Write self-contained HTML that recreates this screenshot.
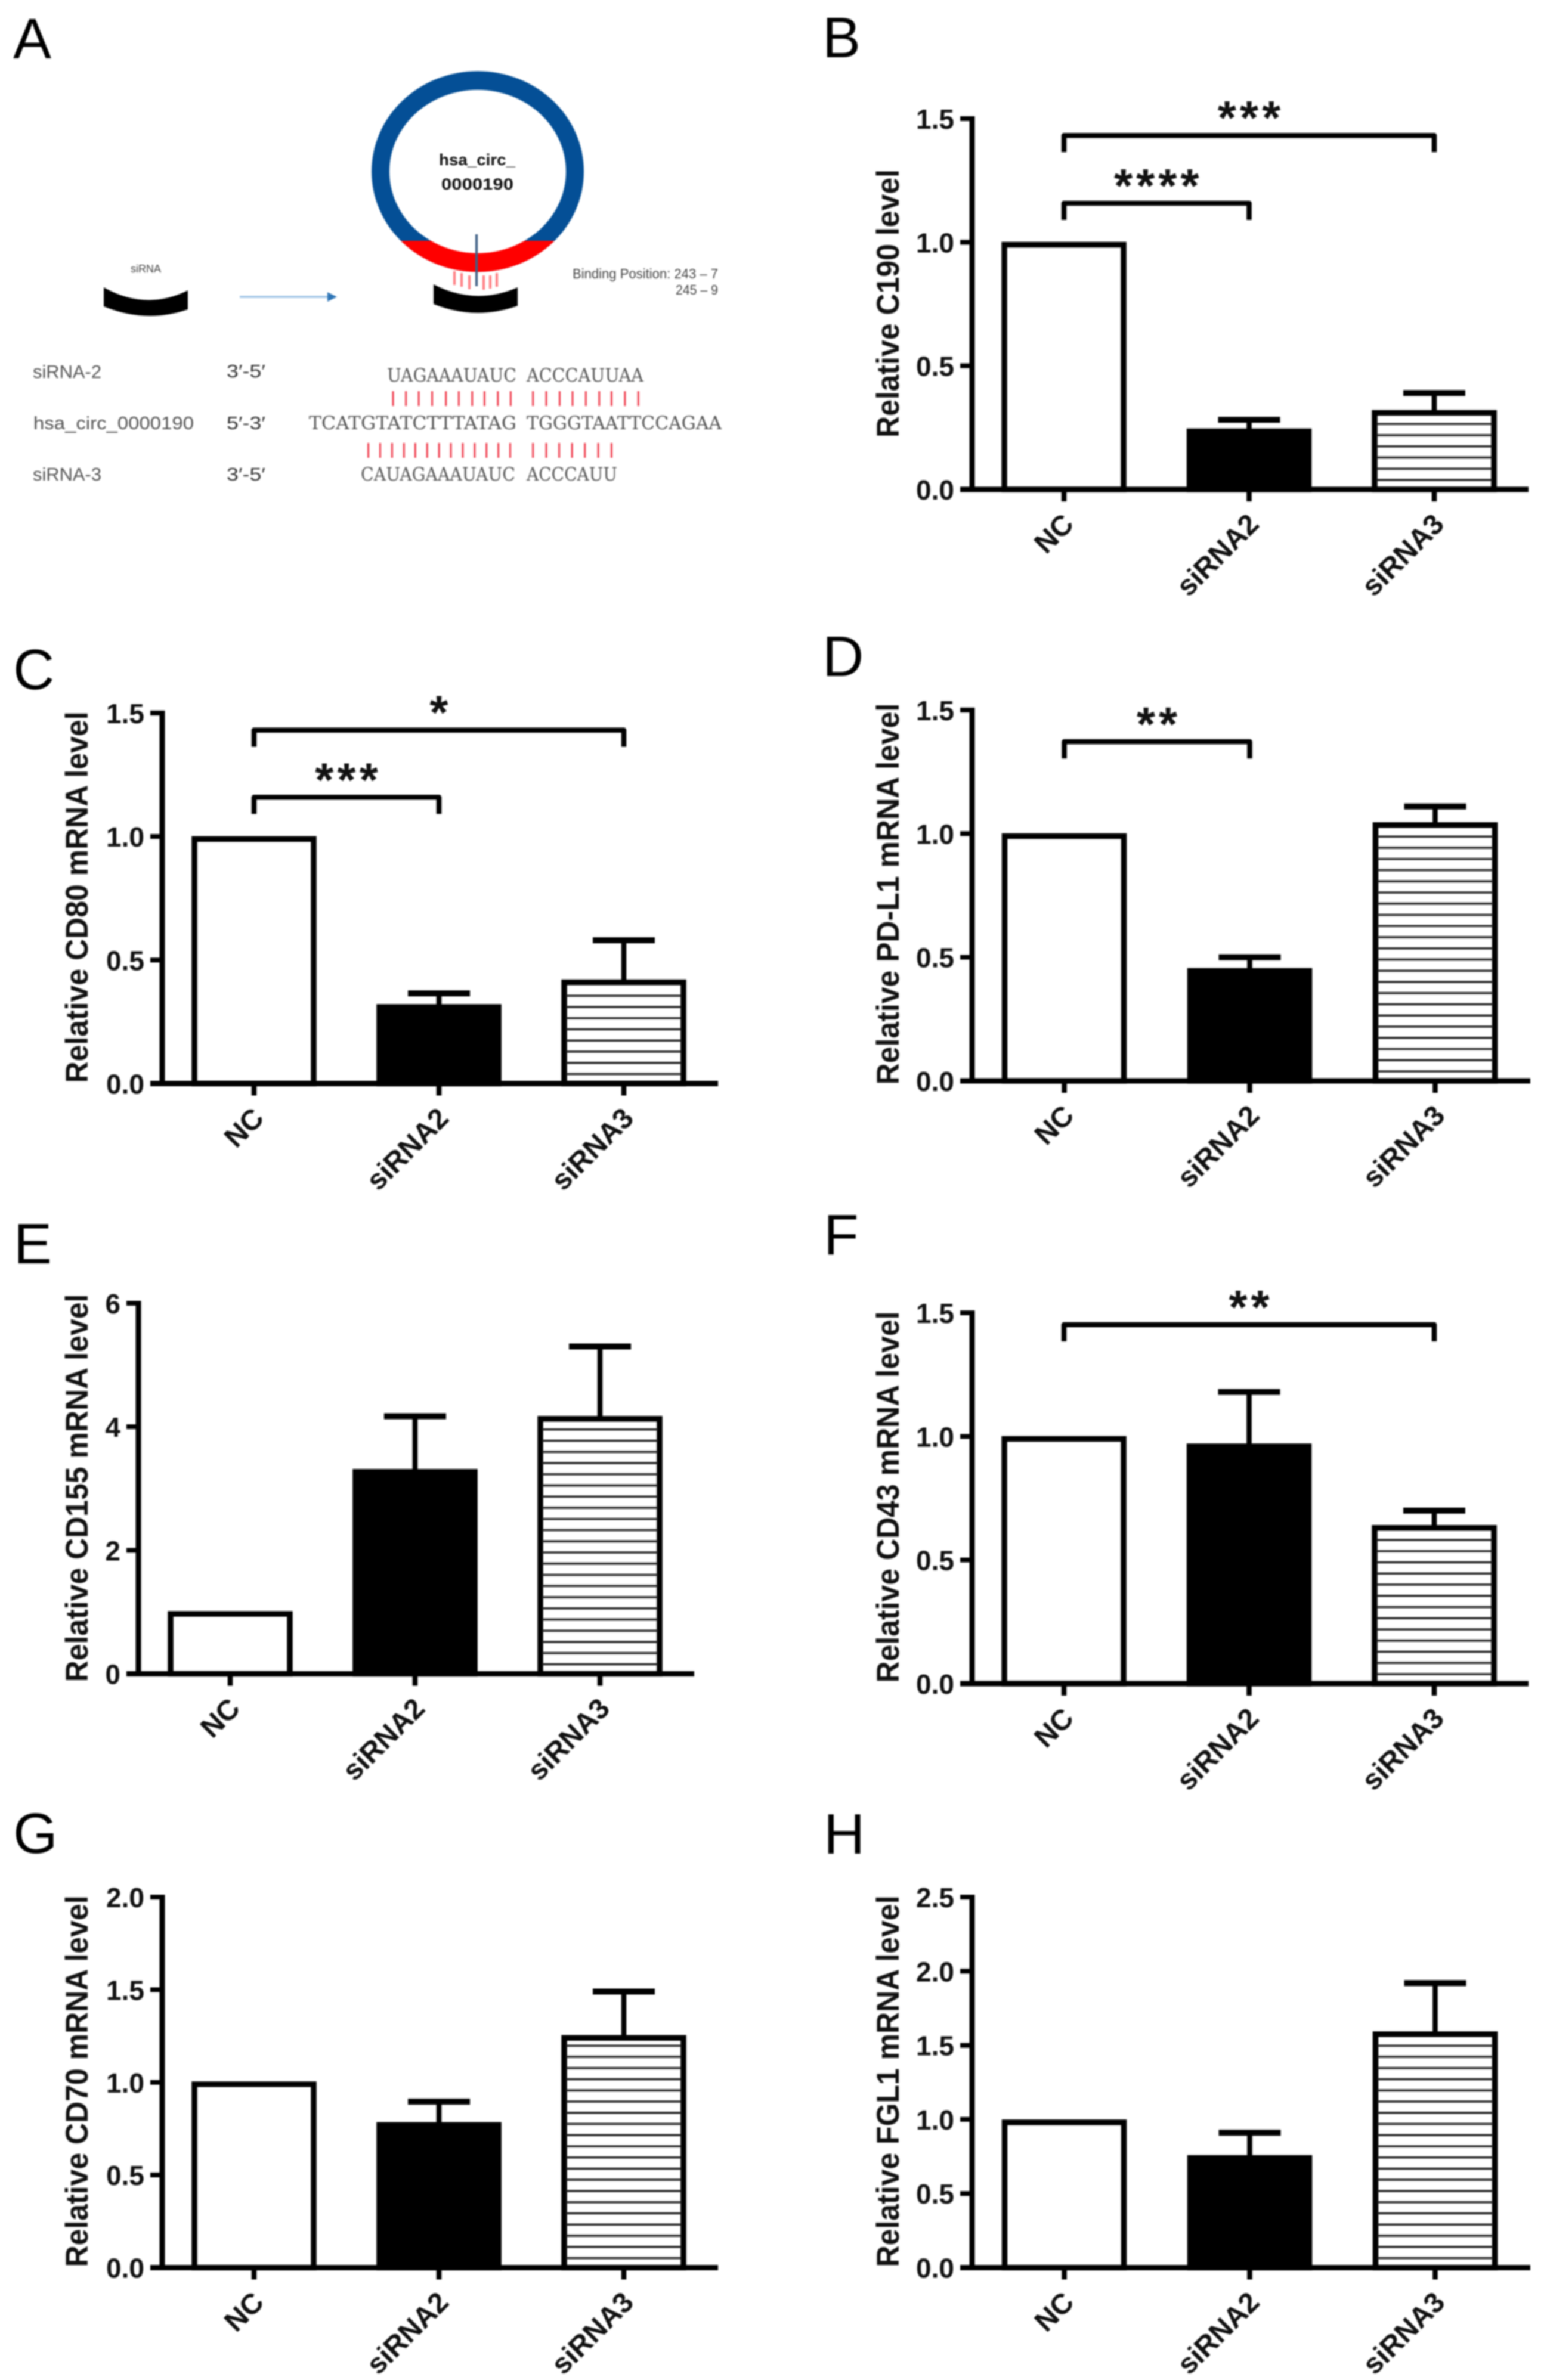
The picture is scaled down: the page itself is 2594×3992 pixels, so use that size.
<!DOCTYPE html>
<html lang="en">
<head>
<meta charset="utf-8">
<title>siRNA knockdown of hsa_circ_0000190 and checkpoint expression</title>
<style>
html,body{margin:0;padding:0;background:#fff;width:2594px;height:3992px;overflow:hidden}
svg{display:block;filter:blur(1.3px)}
text{font-family:"Liberation Sans",sans-serif}
.lt{fill:#555}
.seq{font-family:"DejaVu Serif",serif;font-size:31px;fill:#555}
.letter{font-size:96px;fill:#000}
</style>
</head>
<body>
<svg id="figure" xmlns="http://www.w3.org/2000/svg" width="2594" height="3992" viewBox="0 0 2594 3992">
<rect x="0" y="0" width="2594" height="3992" fill="#fff"/>

<text class="letter" x="22" y="98">A</text>
<text class="letter" x="1379" y="96">B</text>
<text class="letter" x="22" y="1156">C</text>
<text class="letter" x="1379" y="1134">D</text>
<text class="letter" x="23" y="2119">E</text>
<text class="letter" x="1381" y="2104">F</text>
<text class="letter" x="22" y="3108">G</text>
<text class="letter" x="1381" y="3109">H</text>

<g id="panel-a">
  <defs>
    <clipPath id="red-zone"><rect x="600" y="404" width="400" height="80"/></clipPath>
  </defs>
  <ellipse cx="801" cy="287.7" rx="178" ry="168.5" fill="#044f96"/>
  <ellipse cx="801" cy="287.7" rx="178" ry="168.5" fill="#ff0000" clip-path="url(#red-zone)"/>
  <ellipse cx="801" cy="287.7" rx="148" ry="137" fill="#fff"/>
  <text x="736" y="277" font-size="27" font-weight="bold" fill="#111" textLength="128" lengthAdjust="spacingAndGlyphs">hsa_circ_</text>
  <text x="740" y="318" font-size="27" font-weight="bold" fill="#111" textLength="121" lengthAdjust="spacingAndGlyphs">0000190</text>
  <g stroke="#ff7b80" stroke-width="4">
    <line x1="762" y1="455" x2="762" y2="478"/>
    <line x1="774" y1="458" x2="774" y2="481"/>
    <line x1="787" y1="462" x2="787" y2="485"/>
    <line x1="811" y1="462" x2="811" y2="486"/>
    <line x1="822" y1="462" x2="822" y2="484"/>
    <line x1="833" y1="458" x2="833" y2="481"/>
  </g>
  <line x1="799" y1="393" x2="799" y2="480" stroke="#3f5f85" stroke-width="4"/>
  <path d="M727 477 Q797 513 868 482 L868 513 Q797 538 727 510 Z" fill="#000"/>
  <path d="M174 482 Q245 522 315 487 L315 519 Q245 543 174 514 Z" fill="#000"/>
  <text x="219" y="457" font-size="18" fill="#444" textLength="51" lengthAdjust="spacingAndGlyphs">siRNA</text>
  <line x1="402" y1="498" x2="552" y2="498" stroke="#9dc3e6" stroke-width="3.5"/>
  <path d="M549 490 L565 498 L549 506 Z" fill="#2e75b6"/>
  <text x="960" y="467" font-size="23" fill="#444" textLength="244" lengthAdjust="spacingAndGlyphs">Binding Position: 243 – 7</text>
  <text x="1133" y="494" font-size="23" fill="#444" textLength="71" lengthAdjust="spacingAndGlyphs">245 – 9</text>

  <text class="lt" x="55" y="634" font-size="31" textLength="115" lengthAdjust="spacingAndGlyphs">siRNA-2</text>
  <text class="lt" x="56" y="720" font-size="31" textLength="269" lengthAdjust="spacingAndGlyphs">hsa_circ_0000190</text>
  <text class="lt" x="55" y="806" font-size="31" textLength="115" lengthAdjust="spacingAndGlyphs">siRNA-3</text>
  <text x="380" y="633" font-size="31" fill="#333" textLength="65" lengthAdjust="spacingAndGlyphs">3′-5′</text>
  <text x="380" y="720" font-size="31" fill="#333" textLength="65" lengthAdjust="spacingAndGlyphs">5′-3′</text>
  <text x="380" y="806" font-size="31" fill="#333" textLength="65" lengthAdjust="spacingAndGlyphs">3′-5′</text>

  <text class="seq" x="649" y="640" textLength="217" lengthAdjust="spacingAndGlyphs">UAGAAAUAUC</text>
  <text class="seq" x="883" y="640" textLength="196" lengthAdjust="spacingAndGlyphs">ACCCAUUAA</text>
  <text class="seq" x="518" y="720" textLength="348" lengthAdjust="spacingAndGlyphs">TCATGTATCTTTATAG</text>
  <text class="seq" x="883" y="720" textLength="327" lengthAdjust="spacingAndGlyphs">TGGGTAATTCCAGAA</text>
  <text class="seq" x="605" y="806" textLength="259" lengthAdjust="spacingAndGlyphs">CAUAGAAAUAUC</text>
  <text class="seq" x="883" y="806" textLength="152" lengthAdjust="spacingAndGlyphs">ACCCAUU</text>
  <g id="pair-ticks"></g>
</g>
<g id="charts"></g>
</svg>

<script>
const categories = ['NC', 'siRNA2', 'siRNA3'];

const panelBTicks = ['0.0', '0.5', '1.0', '1.5'];
const panelBValues = [0.99, 0.235, 0.31];
const panelBErrorTops = [null, 0.282, 0.39];
const panelBBrackets = [[0, 2, 1.432, '***'], [0, 1, 1.158, '****']];

const panelCTicks = ['0.0', '0.5', '1.0', '1.5'];
const panelCValues = [0.99, 0.31, 0.41];
const panelCErrorTops = [null, 0.365, 0.58];
const panelCBrackets = [[0, 2, 1.431, '*'], [0, 1, 1.159, '***']];

const panelDTicks = ['0.0', '0.5', '1.0', '1.5'];
const panelDValues = [0.99, 0.445, 1.035];
const panelDErrorTops = [null, 0.5, 1.11];
const panelDBrackets = [[0, 1, 1.372, '**']];

const panelETicks = ['0', '2', '4', '6'];
const panelEValues = [0.97, 3.27, 4.13];
const panelEErrorTops = [null, 4.17, 5.3];
const panelEBrackets = [];

const panelFTicks = ['0.0', '0.5', '1.0', '1.5'];
const panelFValues = [0.99, 0.96, 0.63];
const panelFErrorTops = [null, 1.18, 0.7];
const panelFBrackets = [[0, 2, 1.452, '**']];

const panelGTicks = ['0.0', '0.5', '1.0', '1.5', '2.0'];
const panelGValues = [0.99, 0.77, 1.24];
const panelGErrorTops = [null, 0.896, 1.49];
const panelGBrackets = [];

const panelHTicks = ['0.0', '0.5', '1.0', '1.5', '2.0', '2.5'];
const panelHValues = [0.98, 0.74, 1.575];
const panelHErrorTops = [null, 0.91, 1.92];
const panelHBrackets = [];

const pairTicksRow1 = [795,821,847,874,902,928,955,980,1007,1033,1078,1105,1132,1158,1185,1212,1237,1264,1291];
const pairTicksRow2 = [745,769,793,817,840,864,888,912,936,960,984,1008,1032,1078,1105,1131,1157,1183,1210,1237];

const SVGNS = 'http://www.w3.org/2000/svg';
const chartsRoot = document.getElementById('charts');
const pairRoot = document.getElementById('pair-ticks');

function make(tag, parent, attrs) {
  const node = document.createElementNS(SVGNS, tag);
  for (const k in attrs) node.setAttribute(k, attrs[k]);
  parent.appendChild(node);
  return node;
}

pairTicksRow1.forEach(function (zx) {
  const el = make('line', pairRoot, {x1: zx * 0.829, x2: zx * 0.829, y1: 656, y2: 681, stroke: '#f04050', 'stroke-width': 3});
  
  
});
pairTicksRow2.forEach(function (zx) {
  const el = make('line', pairRoot, {x1: zx * 0.829, x2: zx * 0.829, y1: 743, y2: 768, stroke: '#f04050', 'stroke-width': 3});
  
  
});

function drawPanel(p) {
  const maxV = parseFloat(p.ticks[p.ticks.length - 1]);
  const y = function (v) { return p.baseline - (p.baseline - p.top) * v / maxV; };
  const x = function (i) { return p.firstX + i * p.stepX; };

  const g = make('g', chartsRoot, {});
  
  

  categories.forEach(function (cat, i) {
    const cx = x(i);
    const topY = y(p.values[i]);
    const errTop = p.errorTops[i];
    if (errTop !== null) {
      const stem = make('line', g, {x1: cx, x2: cx, y1: y(errTop), y2: topY, stroke: '#000', 'stroke-width': 8.5});
      
      
      const cap = make('line', g, {x1: cx - 52, x2: cx + 52, y1: y(errTop), y2: y(errTop), stroke: '#000', 'stroke-width': 10});
      
      
    }
    const bar = make('rect', g, {x: cx - 100, y: topY, width: 200, height: p.baseline - topY, fill: i === 1 ? '#000' : '#fff', stroke: '#000', 'stroke-width': 9.5});
    
    
    if (i === 2) {
      for (let hy = p.baseline - 16; hy > topY + 10; hy -= 18.75) {
        const hatch = make('line', g, {x1: cx - 97, x2: cx + 97, y1: hy, y2: hy, stroke: '#222', 'stroke-width': 3.5});
        
        
      }
    }
  });

  const yAxis = make('line', g, {x1: p.axisX, x2: p.axisX, y1: p.top - 4, y2: p.baseline, stroke: '#000', 'stroke-width': 9});
  
  
  const xAxis = make('line', g, {x1: p.axisX - 20, x2: p.axisEnd, y1: p.baseline, y2: p.baseline, stroke: '#000', 'stroke-width': 9});
  
  

  p.ticks.forEach(function (label) {
    const ty = y(parseFloat(label));
    const tick = make('line', g, {x1: p.axisX - 20, x2: p.axisX, y1: ty, y2: ty, stroke: '#000', 'stroke-width': 8});
    
    
    const t = make('text', g, {x: p.axisX - 30, y: ty + 17, 'text-anchor': 'end', 'font-size': 46, 'font-weight': 'bold', fill: '#111'});
    t.textContent = label;
    
    
  });

  categories.forEach(function (cat, i) {
    const cx = x(i);
    const tick = make('line', g, {x1: cx, x2: cx, y1: p.baseline, y2: p.baseline + 20, stroke: '#000', 'stroke-width': 8.5});
    
    
    const ax = cx + 19;
    const ay = p.baseline + 61;
    const t = make('text', g, {x: ax, y: ay, 'text-anchor': 'end', 'font-size': 48, 'font-weight': 'bold', fill: '#111', transform: 'rotate(-45 ' + ax + ' ' + ay + ')'});
    t.textContent = cat;
    
    
  });

  const title = make('text', g, {x: p.titleX - 3, y: p.titleY, 'text-anchor': 'middle', 'font-size': 53, 'font-weight': 'bold', fill: '#111', transform: 'rotate(-90 ' + (p.titleX - 3) + ' ' + p.titleY + ') translate(' + (p.titleX - 3) + ' 0) scale(0.943 1) translate(' + (3 - p.titleX) + ' 0)'});
  title.textContent = p.title;
  
  

  p.brackets.forEach(function (b) {
    const x1 = x(b[0]);
    const x2 = x(b[1]);
    const by = y(b[2]);
    const path = make('path', g, {d: 'M' + x1 + ' ' + (by + 28) + ' V' + by + ' H' + x2 + ' V' + (by + 28), fill: 'none', stroke: '#000', 'stroke-width': 8.5, 'stroke-linejoin': 'round'});
    
    
    const s = make('text', g, {x: (x1 + x2) / 2 + 3, y: by - 2, 'text-anchor': 'middle', 'font-size': 80, 'font-weight': 'bold', 'letter-spacing': 6, fill: '#111'});
    s.textContent = b[3];
    
    
  });
}

drawPanel({id: 'c190', title: 'Relative C190 level', ticks: panelBTicks, values: panelBValues, errorTops: panelBErrorTops, brackets: panelBBrackets, axisX: 1630, axisEnd: 2563, firstX: 1784, stepX: 310.5, top: 199, baseline: 821, titleX: 1510, titleY: 509});
drawPanel({id: 'cd80', title: 'Relative CD80 mRNA level', ticks: panelCTicks, values: panelCValues, errorTops: panelCErrorTops, brackets: panelCBrackets, axisX: 272, axisEnd: 1204, firstX: 426, stepX: 310, top: 1196, baseline: 1817.5, titleX: 150, titleY: 1505});
drawPanel({id: 'pd-l1', title: 'Relative PD-L1 mRNA level', ticks: panelDTicks, values: panelDValues, errorTops: panelDErrorTops, brackets: panelDBrackets, axisX: 1630, axisEnd: 2566, firstX: 1784.5, stepX: 311, top: 1191, baseline: 1813, titleX: 1510, titleY: 1499.5});
drawPanel({id: 'cd155', title: 'Relative CD155 mRNA level', ticks: panelETicks, values: panelEValues, errorTops: panelEErrorTops, brackets: panelEBrackets, axisX: 232, axisEnd: 1164, firstX: 386, stepX: 310, top: 2186, baseline: 2807.5, titleX: 150, titleY: 2496});
drawPanel({id: 'cd43', title: 'Relative CD43 mRNA level', ticks: panelFTicks, values: panelFValues, errorTops: panelFErrorTops, brackets: panelFBrackets, axisX: 1630, axisEnd: 2563, firstX: 1784, stepX: 310.5, top: 2202, baseline: 2824, titleX: 1510, titleY: 2511});
drawPanel({id: 'cd70', title: 'Relative CD70 mRNA level', ticks: panelGTicks, values: panelGValues, errorTops: panelGErrorTops, brackets: panelGBrackets, axisX: 272, axisEnd: 1204, firstX: 426, stepX: 310, top: 3182, baseline: 3803.5, titleX: 150, titleY: 3491});
drawPanel({id: 'fgl1', title: 'Relative FGL1 mRNA level', ticks: panelHTicks, values: panelHValues, errorTops: panelHErrorTops, brackets: panelHBrackets, axisX: 1630, axisEnd: 2566, firstX: 1784.5, stepX: 311, top: 3182, baseline: 3803.5, titleX: 1510, titleY: 3491});
</script>
</body>
</html>
